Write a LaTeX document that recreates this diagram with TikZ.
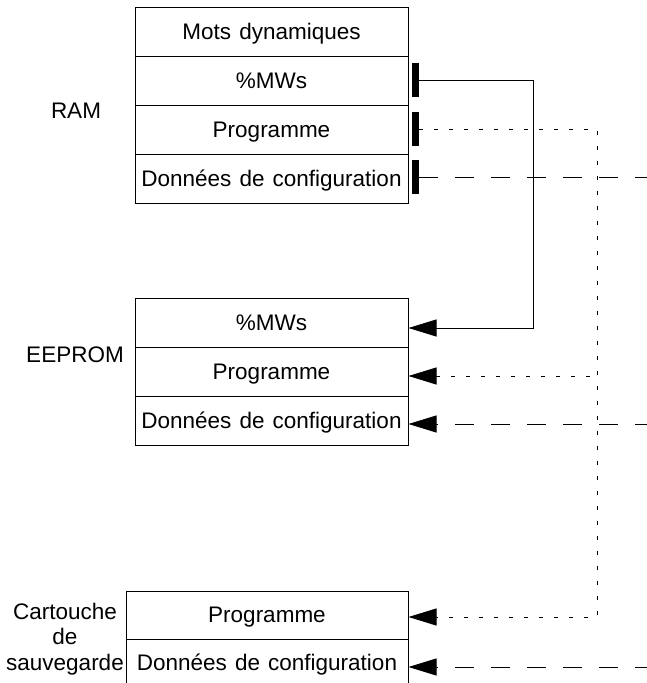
\documentclass[tikz,border=0pt]{standalone}
\usepackage{fontspec}
\setmainfont{Liberation Sans}
\usetikzlibrary{arrows.meta,calc}
\begin{document}
\begin{tikzpicture}[x=1pt,y=-1pt,
  txt/.style={font={\fontsize{22.5}{25.5}\selectfont\spaceskip=0.36em plus 0.1em\relax}},
  row/.style={draw, line width=1pt, minimum width=273pt, minimum height=49pt, inner sep=0pt, text height=17pt, text depth=2pt, txt},
  crow/.style={row, minimum width=282pt, minimum height=48pt},
  bar/.style={fill=black, draw=none, minimum width=7pt, minimum height=34pt, inner sep=0pt},
  conn/.style={line width=1pt},
  tip/.style={-{Triangle[length=28pt,width=17pt]}},
  rtip/.style={{Triangle[length=28pt,width=17pt]}-},
  dotline/.style={conn, dash pattern=on 4pt off 11pt},
  dashline/.style={conn, dash pattern=on 19pt off 17pt},
  dashin/.style={dashline, dash phase=17pt}]
\useasboundingbox (0,0) rectangle (647,683);
\clip (0,0) rectangle (647,683);
% RAM
\node[row] (r0) at (271.5,31.5) {Mots dynamiques};
\node[row] (r1) at (271.5,80.5) {\%MWs};
\node[row] (r2) at (271.5,129.5) {Programme};
\node[row] (r3) at (271.5,178.5) {Données de configuration};
\node[txt, anchor=base] (lram) at (76,118) {RAM};
\node[bar] (b1) at (415.5,80) {};
\node[bar] (b2) at (415.5,129) {};
\node[bar] (b3) at (415.5,177) {};
% EEPROM
\node[row] (e1) at (271.5,322.5) {\%MWs};
\node[row] (e2) at (271.5,371.5) {Programme};
\node[row] (e3) at (271.5,420.5) {Données de configuration};
\node[txt, anchor=base] (leep) at (75,362) {EEPROM};
% Cartouche
\node[crow] (c1) at (267,615) {Programme};
\node[crow] (c2) at (267,663) {Données de configuration};
\node[txt, align=center] (lcar) at (65,639) {Cartouche\\de\\sauvegarde};
% routing points
\coordinate (s1) at (533,80);
\coordinate (s2) at (533,328);
\coordinate (d1) at (597,129);
\coordinate (d2) at (597,617);
\coordinate (d3) at (597,376);
\coordinate (x1) at (647,177);
\coordinate (x2) at (647,424);
\coordinate (x3) at (647,667);
% connectors
\draw[conn, tip] (b1.east) -- (s1) -- (s2) -- ($(e1.east)+(0,5.5)$);
\draw[dotline, tip] (b2.east) -- (d1) -- (d2) -- ($(c1.east)+(0,2)$);
\draw[dotline, rtip] ($(e2.east)+(0,4.5)$) -- (d3);
\draw[dashline] (b3.east) -- (x1);
\draw[dashin, rtip] ($(e3.east)+(0,3.5)$) -- (x2);
\draw[dashin, rtip] ($(c2.east)+(0,4)$) -- (x3);
\end{tikzpicture}
\end{document}
